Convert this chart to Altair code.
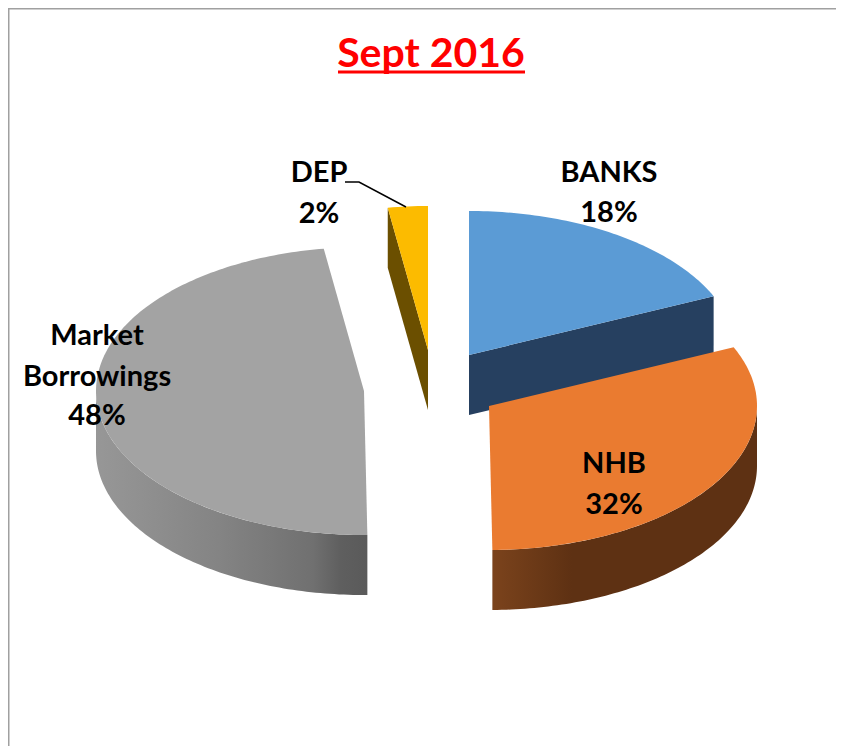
import math
import altair as alt
import pandas as pd

# Values
categories = ["BANKS", "NHB", "Market Borrowings", "DEP"]
shares = [18.3, 31.5, 47.8, 2.4]
label_lines = [["BANKS", "18%"], ["NHB", "32%"], ["Market", "Borrowings", "48%"], ["DEP", "2%"]]
title_text = "Sept 2016"

# Pie projection
RX, RY, DEPTH = 268, 144, 60
apex = {"BANKS": (469, 355), "NHB": (489, 406), "Market Borrowings": (364, 391), "DEP": (428, 350)}
top_color = {"BANKS": "#5b9bd5", "NHB": "#ea7b30", "Market Borrowings": "#a3a3a3", "DEP": "#fcbb00"}
label_pos = {"BANKS": (609, [173, 213]), "NHB": (614, [464, 505]),
             "Market Borrowings": (97, [336, 377, 416]), "DEP": (319, [173, 214])}

W, H = 828, 738
xs = alt.Scale(domain=[8, 8 + W], range=[0, W], nice=False, zero=False)
ys = alt.Scale(domain=[8, 8 + H], range=[0, H], nice=False, zero=False)


def pt(name, deg, drop=0):
    a = math.radians(deg)
    cx, cy = apex[name]
    return cx + RX * math.sin(a), cy - RY * math.cos(a) + drop


def poly(points, fill):
    df = pd.DataFrame([{"x": p[0], "y": p[1], "i": i} for i, p in enumerate(points + points[:1])])
    return alt.Chart(df).mark_line(fill=fill, stroke="transparent", strokeWidth=0, interpolate="linear").encode(
        x=alt.X("x:Q", scale=xs, axis=None),
        y=alt.Y("y:Q", scale=ys, axis=None),
        order=alt.Order("i:Q"),
    )


def arc(name, a0, a1, drop=0):
    n = max(2, int(abs(a1 - a0)) + 1)
    return [pt(name, a0 + (a1 - a0) * k / (n - 1), drop) for k in range(n)]


def grad(stops):
    return alt.LinearGradient(gradient="linear", x1=0, y1=0, x2=1, y2=0,
                              stops=[alt.GradientStop(offset=o, color=c) for o, c in stops])


edges = {}
cum = 0
for c, s in zip(categories, shares):
    edges[c] = (cum * 3.6, (cum + s) * 3.6)
    cum += s

layers = []

# Frame
frame = pd.DataFrame({"x": [8.5, 8.5, 8 + W], "y": [8 + H, 8.5, 8.5], "i": [0, 1, 2]})
layers.append(alt.Chart(frame).mark_line(color="#a0a0a0", strokeWidth=2).encode(
    x=alt.X("x:Q", scale=xs, axis=None), y=alt.Y("y:Q", scale=ys, axis=None), order="i:Q"))

# BANKS
a0, a1 = edges["BANKS"]
e = pt("BANKS", a1)
c = apex["BANKS"]
layers.append(poly([c, e, (e[0], e[1] + DEPTH), (c[0], c[1] + DEPTH)], "#264060"))
layers.append(poly([c] + arc("BANKS", a0, a1), top_color["BANKS"]))

# DEP
a0, a1 = edges["DEP"]
e = pt("DEP", a0)
c = apex["DEP"]
layers.append(poly([e, c, (c[0], c[1] + DEPTH), (e[0], e[1] + DEPTH)], "#6b4f00"))
layers.append(poly([c] + arc("DEP", a0, a1), top_color["DEP"]))

# Market
a0, a1 = edges["Market Borrowings"]
side = arc("Market Borrowings", a0, 270) + arc("Market Borrowings", 270, a0, DEPTH)
layers.append(poly(side, grad([(0, "#979797"), (0.45, "#848484"), (0.8, "#707070"), (0.9, "#5f5f5f"), (1, "#5a5a5a")])))
layers.append(poly([apex["Market Borrowings"]] + arc("Market Borrowings", a0, a1), top_color["Market Borrowings"]))

# NHB
a0, a1 = edges["NHB"]
side = arc("NHB", 90, a1) + arc("NHB", a1, 90, DEPTH)
layers.append(poly(side, grad([(0, "#7b431c"), (0.3, "#5e3113"), (1, "#5e3113")])))
layers.append(poly([apex["NHB"]] + arc("NHB", a0, a1), top_color["NHB"]))

# Leader line
leader = pd.DataFrame({"x": [345, 359, 406], "y": [182, 182, 207], "i": [0, 1, 2]})
layers.append(alt.Chart(leader).mark_line(color="black", strokeWidth=1.5).encode(
    x=alt.X("x:Q", scale=xs, axis=None), y=alt.Y("y:Q", scale=ys, axis=None), order="i:Q"))

# Labels
rows = []
for cat, lines in zip(categories, label_lines):
    x, yy = label_pos[cat]
    rows += [{"t": t, "x": x, "y": v} for t, v in zip(lines, yy)]
layers.append(alt.Chart(pd.DataFrame(rows)).mark_text(
    font="Lato", fontWeight="bold", fontSize=29, color="black", align="center", baseline="middle").encode(
    x=alt.X("x:Q", scale=xs, axis=None), y=alt.Y("y:Q", scale=ys, axis=None), text="t:N"))

# Title with underline
layers.append(alt.Chart(pd.DataFrame({"t": [title_text], "x": [431], "y": [55]})).mark_text(
    font="Lato", fontWeight="bold", fontSize=41, color="#ff0000", align="center", baseline="middle").encode(
    x=alt.X("x:Q", scale=xs, axis=None), y=alt.Y("y:Q", scale=ys, axis=None), text="t:N"))
layers.append(alt.Chart(pd.DataFrame({"x": [338], "x2": [525], "y": [72]})).mark_rule(color="#ff0000", strokeWidth=3).encode(
    x=alt.X("x:Q", scale=xs, axis=None), x2="x2:Q", y=alt.Y("y:Q", scale=ys, axis=None)))

chart = alt.layer(*layers).properties(
    width=W, height=H, padding=0, autosize=alt.AutoSizeParams(type="none"), background="white"
).configure_view(stroke=None)

chart.save("out.html", embed_options={"renderer": "svg", "actions": False})
